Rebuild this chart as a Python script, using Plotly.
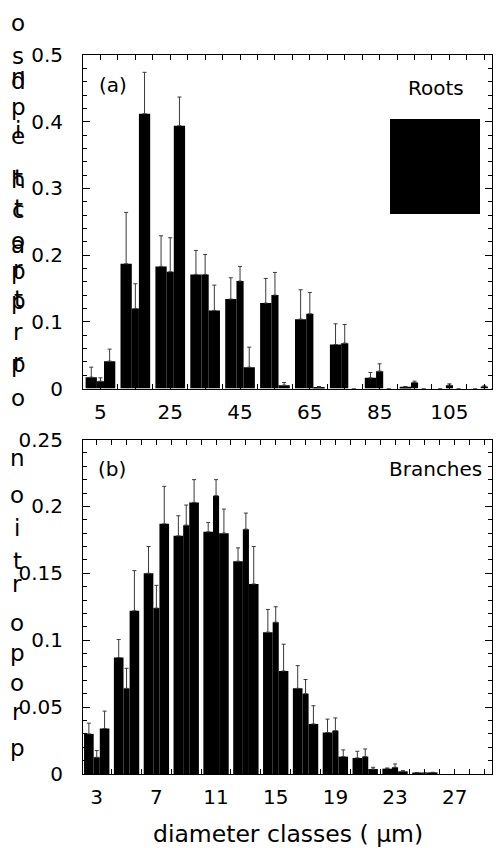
import plotly.graph_objects as go

# ---------------- data ----------------
roots_classes = [5, 15, 25, 35, 45, 55, 65, 75, 85, 95, 105, 115]
roots_s1 = [0.017, 0.187, 0.183, 0.171, 0.134, 0.128, 0.104, 0.066, 0.016, 0.0025, 0.0, 0.0]
roots_s2 = [0.011, 0.120, 0.175, 0.171, 0.161, 0.140, 0.112, 0.068, 0.026, 0.009, 0.005, 0.003]
roots_s3 = [0.041, 0.412, 0.394, 0.117, 0.032, 0.005, 0.002, 0.0, 0.0, 0.0, 0.0, 0.0]
roots_sd1 = [0.015, 0.077, 0.046, 0.036, 0.032, 0.037, 0.044, 0.031, 0.008, 0.0005, 0.0, 0.0]
roots_sd2 = [0.005, 0.037, 0.051, 0.030, 0.022, 0.034, 0.032, 0.028, 0.011, 0.002, 0.002, 0.001]
roots_sd3 = [0.018, 0.062, 0.043, 0.038, 0.030, 0.004, 0.001, 0.0, 0.0, 0.0, 0.0, 0.0]

branch_classes = [3, 5, 7, 9, 11, 13, 15, 17, 19, 21, 23, 25]
branch_s1 = [0.030, 0.087, 0.150, 0.178, 0.181, 0.159, 0.106, 0.064, 0.031, 0.012, 0.004, 0.001]
branch_s2 = [0.0125, 0.064, 0.124, 0.186, 0.208, 0.183, 0.1135, 0.060, 0.0324, 0.013, 0.005, 0.0005]
branch_s3 = [0.034, 0.122, 0.187, 0.203, 0.180, 0.142, 0.077, 0.0374, 0.013, 0.0037, 0.002, 0.0012]
branch_sd1 = [0.008, 0.0135, 0.020, 0.015, 0.007, 0.010, 0.017, 0.017, 0.010, 0.005, 0.0005, 0.0]
branch_sd2 = [0.005, 0.015, 0.017, 0.015, 0.012, 0.012, 0.0115, 0.0106, 0.0095, 0.0057, 0.0025, 0.0]
branch_sd3 = [0.013, 0.030, 0.028, 0.017, 0.018, 0.028, 0.020, 0.0136, 0.005, 0.0013, 0.0005, 0.0]

roots_ticks = [5, 25, 45, 65, 85, 105]
branch_ticks = [3, 7, 11, 15, 19, 23, 27]

# ---------------- style ----------------
FONT = "DejaVu Sans"
PAGE_W, PAGE_H = 501, 848
BODY = 8                      # default page body margin
W, H = PAGE_W - BODY, PAGE_H - BODY
# plot area in page pixels
AX_L, AX_R, AX_T, AX_B = 83, 492, 55, 774
L, T = AX_L - BODY, AX_T - BODY
R, B = W - (AX_R - BODY), H - (AX_B - BODY)
PW, PH = AX_R - AX_L, AX_B - AX_T
GROUP_FRAC = 0.85
SHARES = [0.38, 0.24, 0.38]
ERR_COLOR = "#3a3a3a"


def px_x(px):
    return (px - AX_L) / PW


def px_y(py):
    return (AX_B - py) / PH


def offsets(slot):
    g = slot * GROUP_FRAC
    ws = [g * s for s in SHARES]
    offs = []
    start = -g / 2
    for w in ws:
        offs.append(start)
        start += w
    return ws, offs


fig = go.Figure()


def add_group(xs, series, sds, slot, xa, ya):
    ws, offs = offsets(slot)
    for vals, sd, w, o in zip(series, sds, ws, offs):
        fig.add_trace(go.Bar(
            x=xs, y=vals, width=w, offset=o,
            marker=dict(color="black", line=dict(width=0)),
            error_y=dict(type="data", symmetric=False, array=sd,
                         arrayminus=[0] * len(sd), color=ERR_COLOR,
                         thickness=1, width=2),
            xaxis=xa, yaxis=ya, showlegend=False,
        ))


add_group(roots_classes, [roots_s1, roots_s2, roots_s3],
          [roots_sd1, roots_sd2, roots_sd3], 10, "x", "y")
add_group(branch_classes, [branch_s1, branch_s2, branch_s3],
          [branch_sd1, branch_sd2, branch_sd3], 2, "x2", "y2")

axis_common = dict(showline=True, linecolor="black", linewidth=1, mirror="ticks",
                   ticks="inside", tickcolor="black", showgrid=False, zeroline=False,
                   tickfont=dict(family=FONT, size=20, color="black"))

top_dom = [px_y(388.5), 1.0]
bot_dom = [0.0, px_y(439.5)]

fig.update_layout(
    width=W, height=H, margin=dict(l=L, r=R, t=T, b=B),
    paper_bgcolor="white", plot_bgcolor="white", barmode="overlay",
    font=dict(family=FONT, color="black"),
    xaxis=dict(axis_common, domain=[0, 1], anchor="y", range=[0.0, 117.2],
               tickmode="array", tickvals=roots_ticks, ticklen=5,
               ticklabelstandoff=5,
               minor=dict(tick0=0, dtick=5, ticks="inside", ticklen=5, tickcolor="black")),
    yaxis=dict(axis_common, domain=top_dom, anchor="x", range=[0, 0.5],
               dtick=0.1, ticklen=7, ticklabelstandoff=15,
               minor=dict(dtick=0.02, ticks="inside", ticklen=4, tickcolor="black")),
    xaxis2=dict(axis_common, domain=[0, 1], anchor="y2", range=[2.08, 29.5],
                tickmode="array", tickvals=branch_ticks, ticklen=5,
                ticklabelstandoff=5,
                minor=dict(tick0=0, dtick=1, ticks="inside", ticklen=5, tickcolor="black")),
    yaxis2=dict(axis_common, domain=bot_dom, anchor="x2", range=[0, 0.25],
                dtick=0.05, ticklen=7, ticklabelstandoff=15,
                minor=dict(dtick=0.01, ticks="inside", ticklen=4, tickcolor="black")),
)

ann = []


def text(t, px, py, size=20, xanchor="center"):
    ann.append(dict(text=t, x=px_x(px), y=px_y(py), xref="paper", yref="paper",
                    showarrow=False, xanchor=xanchor, yanchor="middle",
                    font=dict(family=FONT, size=size, color="black")))


text("(a)", 113, 85)
text("Roots", 436, 88)
text("(b)", 112, 469)
text("Branches", 435, 469)
text("diameter classes ( \u00b5m)", 288, 834, size=23.5)

# stacked vertical axis-title glyphs (as drawn in the original)
top_letters = [("o", 23), ("s", 56), ("n", 77), ("d", 81), ("p", 107), ("i", 130), ("e", 136),
               ("h", 180), ("t", 178), ("c", 210), ("t", 208), ("a", 245), ("o", 241),
               ("p", 271), ("r", 269), ("p", 301), ("t", 299), ("r", 332), ("p", 364),
               ("r", 362), ("o", 398)]
bot_letters = [("n", 458), ("o", 495), ("i", 528), ("t", 561), ("r", 584), ("o", 623),
               ("p", 653), ("o", 683), ("r", 712), ("p", 748)]
for ch, y in top_letters:
    text(ch, 18, y, size=23)
for ch, y in bot_letters:
    text(ch, 17, y, size=23)

fig.update_layout(annotations=ann)

# legend swatch (black box) in the top panel
fig.add_shape(type="rect", xref="paper", yref="paper",
              x0=px_x(390), x1=px_x(480), y0=px_y(214), y1=px_y(119),
              fillcolor="black", line=dict(width=0))

fig.write_html("out.html")
